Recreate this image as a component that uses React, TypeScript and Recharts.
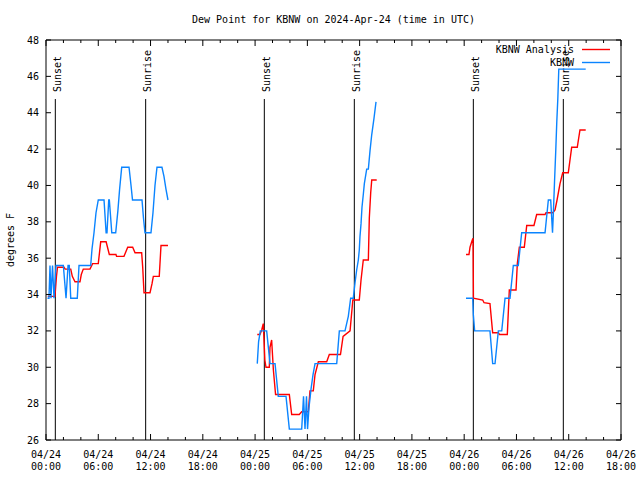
import { LineChart, Line, XAxis, YAxis, ReferenceLine, Legend } from 'recharts';

const FONT = '"DejaVu Sans Mono", monospace';
const RED = '#ff0000';
const BLUE = '#0a84ff';

// hours after 2024-04-24 00:00 UTC, dew point in degrees F
const analysisDay1: [number, number][] = [
  [0.2, 33.9], [1.03, 33.9], [1.2, 35.0], [1.32, 35.5], [2.07, 35.5], [2.2, 35.4], [2.84, 35.4],
  [3.02, 35.0], [3.33, 34.7], [3.9, 34.7], [4.05, 35.1], [4.28, 35.4], [5.05, 35.4], [5.35, 35.7],
  [6.0, 35.7], [6.28, 36.9], [6.9, 36.9], [7.27, 36.2], [8.03, 36.2], [8.1, 36.1], [8.95, 36.1],
  [9.38, 36.6], [9.95, 36.6], [10.22, 36.3], [10.98, 36.3], [11.1, 35.5], [11.25, 34.1], [11.94, 34.1],
  [12.17, 34.6], [12.32, 35.0], [13.0, 35.0], [13.2, 36.7], [14.0, 36.7],
];
const analysisDay2: [number, number][] = [
  [24.25, 31.8], [24.56, 31.8], [24.76, 32.05], [24.94, 32.4], [25.05, 31.2], [25.12, 30.4],
  [25.25, 30.0], [25.63, 30.0], [25.71, 31.1], [25.9, 31.5], [26.1, 29.85], [26.35, 28.5],
  [27.93, 28.5], [28.2, 27.4], [29.07, 27.4], [29.35, 27.55], [30.11, 27.55], [30.3, 28.7],
  [30.68, 28.7], [30.88, 29.6], [31.26, 30.3], [32.22, 30.3], [32.52, 30.7], [33.8, 30.7],
  [34.1, 31.7], [34.9, 32.0], [35.22, 33.7], [35.96, 33.7], [36.16, 34.8], [36.42, 35.9],
  [37.0, 35.9], [37.11, 38.2], [37.27, 39.6], [37.39, 40.3], [37.96, 40.3],
];
const analysisDay3: [number, number][] = [
  [48.21, 36.2], [48.55, 36.2], [48.67, 36.6], [48.93, 37.0], [49.02, 37.1], [49.06, 33.8],
  [50.13, 33.7], [50.28, 33.55], [50.96, 33.5], [51.27, 31.9], [51.92, 31.9], [52.06, 31.8],
  [52.95, 31.8], [53.18, 34.25], [53.95, 34.25], [54.1, 35.7], [54.33, 36.6], [54.9, 36.6],
  [55.18, 37.8], [56.01, 37.8], [56.32, 38.4], [57.28, 38.4], [57.39, 38.5], [58.16, 38.5],
  [58.43, 38.65], [58.66, 39.2], [59.0, 40.1], [59.31, 40.7], [59.95, 40.7], [60.34, 42.1],
  [60.98, 42.1], [61.29, 43.05], [61.95, 43.05],
];

const obsDay1: [number, number][] = [
  [0.17, 33.8], [0.34, 33.8], [0.46, 35.6], [0.57, 33.8], [0.75, 35.6], [0.92, 33.8], [1.15, 35.6],
  [1.99, 35.6], [2.3, 33.8], [2.53, 35.6], [2.67, 35.6], [2.84, 33.8], [3.59, 33.8], [3.79, 35.6],
  [5.13, 35.6], [5.28, 36.5], [5.51, 37.4], [5.74, 38.5], [6.0, 39.2], [6.66, 39.2], [6.9, 37.4],
  [7.0, 37.4], [7.2, 39.2], [7.27, 39.2], [7.55, 37.4], [8.0, 37.4], [8.25, 38.6], [8.45, 39.8],
  [8.69, 41.0], [9.53, 41.0], [9.76, 40.0], [9.93, 39.2], [11.02, 39.2], [11.19, 38.2], [11.36, 37.4],
  [12.05, 37.4], [12.28, 38.5], [12.51, 40.0], [12.74, 41.0], [13.31, 41.0], [13.54, 40.5],
  [13.77, 39.8], [14.0, 39.2],
];
const obsDay2: [number, number][] = [
  [24.25, 30.2], [24.4, 31.4], [24.6, 32.0], [25.33, 32.0], [25.71, 30.2], [26.29, 30.2],
  [26.66, 28.4], [27.55, 28.4], [27.93, 26.6], [29.35, 26.6], [29.56, 28.4], [29.73, 26.6],
  [29.9, 28.4], [30.02, 26.6], [30.19, 27.8], [30.42, 28.8], [30.65, 29.6], [30.88, 30.2],
  [33.37, 30.2], [33.67, 32.0], [34.32, 32.0], [34.7, 32.8], [34.97, 33.8], [35.27, 33.8],
  [35.47, 34.65], [35.66, 35.35], [35.85, 35.9], [35.96, 36.45], [36.04, 37.2], [36.16, 37.9],
  [36.27, 38.8], [36.42, 39.5], [36.54, 40.1], [36.81, 40.9], [37.0, 40.9], [37.19, 41.9],
  [37.39, 42.8], [37.65, 43.7], [37.88, 44.6],
];
const obsDay3: [number, number][] = [
  [48.21, 33.8], [48.98, 33.8], [49.05, 32.9], [49.2, 32.0], [50.96, 32.0], [51.27, 30.2],
  [51.54, 30.2], [51.92, 32.0], [52.31, 32.0], [52.69, 33.8], [53.26, 33.8], [53.64, 35.6],
  [54.21, 35.6], [54.6, 37.4], [57.28, 37.4], [57.66, 39.2], [57.93, 39.2], [58.14, 37.4],
  [58.23, 38.4], [58.37, 40.2], [58.51, 41.9], [58.63, 43.5], [58.75, 44.8], [58.86, 46.4],
  [61.95, 46.4],
];

const sunHours = [1.07, 11.44, 25.06, 35.39, 49.05, 59.38];
const sunLabels = ['Sunset', 'Sunrise', 'Sunset', 'Sunrise', 'Sunset', 'Sunrise'];

const majorTicks = [0, 6, 12, 18, 24, 30, 36, 42, 48, 54, 60, 66];
const dayLabels = ['04/24', '04/24', '04/24', '04/24', '04/25', '04/25', '04/25', '04/25', '04/26', '04/26', '04/26', '04/26'];
const timeLabels = ['00:00', '06:00', '12:00', '18:00', '00:00', '06:00', '12:00', '18:00', '00:00', '06:00', '12:00', '18:00'];
const minorTicks = Array.from({ length: 34 }, (_, i) => i * 2);
const yTicks = [26, 28, 30, 32, 34, 36, 38, 40, 42, 44, 46, 48];

// join segments, with a null row in each gap so the line breaks
const toRows = (segs: [number, number][][]) =>
  segs.flatMap((seg, i) => {
    const rows = seg.map(([t, v]) => ({ t, v: v as number | null }));
    if (i === 0) return rows;
    const prev = segs[i - 1];
    return [{ t: (prev[prev.length - 1][0] + seg[0][0]) / 2, v: null }, ...rows];
  });

const analysisRows = toRows([analysisDay1, analysisDay2, analysisDay3]);
const obsRows = toRows([obsDay1, obsDay2, obsDay3]);

const BottomTick = ({ x, y, payload }: any) => {
  const i = majorTicks.indexOf(payload.value);
  return (
    <g>
      <line x1={x} y1={y} x2={x} y2={y - (i >= 0 ? 6 : 3)} stroke="#000" />
      {i >= 0 && (
        <text textAnchor="middle" fontFamily={FONT} fontSize={10} fill="#000">
          <tspan x={x} y={y + 18}>{dayLabels[i]}</tspan>
          <tspan x={x} y={y + 30}>{timeLabels[i]}</tspan>
        </text>
      )}
    </g>
  );
};

const TopTick = ({ x, y, payload }: any) => (
  <line x1={x} y1={y} x2={x} y2={y + (payload.value % 6 === 0 ? 6 : 3)} stroke="#000" />
);

const LeftTick = ({ x, y, payload }: any) => (
  <g>
    <line x1={x} y1={y} x2={x + 5} y2={y} stroke="#000" />
    <text x={x - 7} y={y + 3.5} textAnchor="end" fontFamily={FONT} fontSize={10} fill="#000">
      {payload.value}
    </text>
  </g>
);

const RightTick = ({ x, y }: any) => <line x1={x} y1={y} x2={x - 5} y2={y} stroke="#000" />;

const sunShape = (label: string) => (p: any) => {
  const top = Math.min(p.y1, p.y2);
  const bottom = Math.max(p.y1, p.y2);
  return (
    <g>
      <line x1={p.x1} y1={top + 59} x2={p.x2} y2={bottom} stroke="#000" strokeWidth={1} />
      <text transform={`translate(${p.x1 + 5.5},92) rotate(-90)`} fontFamily={FONT} fontSize={10} fill="#000">
        {label}
      </text>
    </g>
  );
};

const LegendBox = () => (
  <svg width={150} height={32}>
    <text x={104} y={13} textAnchor="end" fontFamily={FONT} fontSize={10} fill="#000">KBNW Analysis</text>
    <line x1={112} y1={9.5} x2={140} y2={9.5} stroke={RED} strokeWidth={1.4} />
    <text x={104} y={26} textAnchor="end" fontFamily={FONT} fontSize={10} fill="#000">KBNW</text>
    <line x1={112} y1={22.5} x2={140} y2={22.5} stroke={BLUE} strokeWidth={1.4} />
  </svg>
);

export default function App() {
  return (
    <div style={{ position: 'absolute', left: 0, top: 0, width: 640, height: 480, background: '#fff' }}>
      <LineChart width={640} height={480} margin={{ top: 39, right: 18, bottom: 0, left: 0 }}>
        <XAxis
          dataKey="t" type="number" domain={[0, 66]} ticks={minorTicks} allowDataOverflow
          height={40} tickSize={0} tickMargin={0} tickLine={false} stroke="#000" tick={<BottomTick />} interval={0}
        />
        <XAxis
          xAxisId="top" orientation="top" dataKey="t" type="number" domain={[0, 66]} ticks={minorTicks}
          allowDataOverflow height={1} tickSize={0} tickMargin={0} tickLine={false} stroke="#000"
          tick={<TopTick />} interval={0}
        />
        <YAxis
          type="number" domain={[26, 48]} ticks={yTicks} allowDataOverflow width={46}
          tickSize={0} tickMargin={0} tickLine={false} stroke="#000" tick={<LeftTick />} interval={0}
        />
        <YAxis
          yAxisId="right" orientation="right" type="number" domain={[26, 48]} ticks={yTicks}
          allowDataOverflow width={1} tickSize={0} tickMargin={0} tickLine={false} stroke="#000"
          tick={<RightTick />} interval={0}
        />
        {sunHours.map((h, i) => (
          <ReferenceLine key={i} x={h} stroke="#000" shape={sunShape(sunLabels[i])} />
        ))}
        <Line
          data={analysisRows} dataKey="v" name="KBNW Analysis" type="linear" stroke={RED}
          strokeWidth={1.4} dot={false} activeDot={false} isAnimationActive={false}
        />
        <Line
          data={obsRows} dataKey="v" name="KBNW" type="linear" stroke={BLUE}
          strokeWidth={1.4} dot={false} activeDot={false} isAnimationActive={false}
        />
        <Legend
          layout="vertical" align="center" verticalAlign="middle" content={<LegendBox />}
          wrapperStyle={{ left: 470, top: 40, width: 150, height: 32 }}
        />
      </LineChart>
      <svg width={640} height={480} style={{ position: 'absolute', left: 0, top: 0, pointerEvents: 'none' }}>
        <text x={333.5} y={23} textAnchor="middle" fontFamily={FONT} fontSize={10} fill="#000">
          Dew Point for KBNW on 2024-Apr-24 (time in UTC)
        </text>
        <text transform="translate(14,240) rotate(-90)" textAnchor="middle" fontFamily={FONT} fontSize={10} fill="#000">
          degrees F
        </text>
      </svg>
    </div>
  );
}
